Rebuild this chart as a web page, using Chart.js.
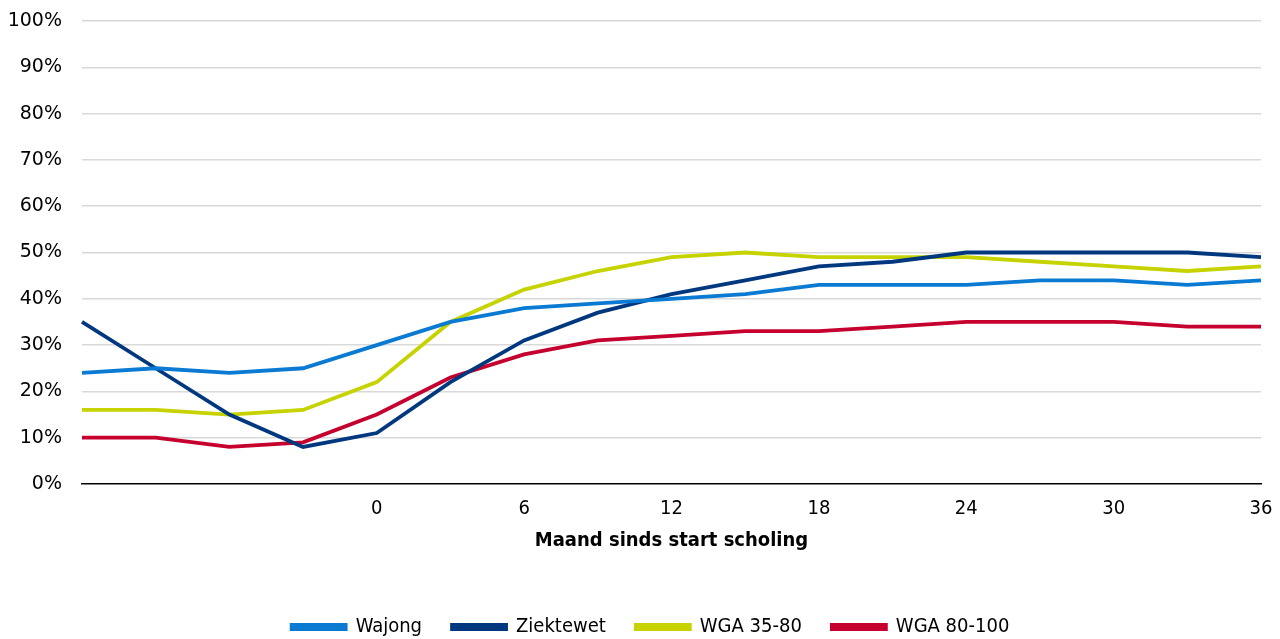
<!DOCTYPE html>
<html>
<head>
<meta charset="utf-8">
<script src="https://cdn.jsdelivr.net/npm/chart.js@4.4.1/dist/chart.umd.min.js"></script>
<style>
  html, body { margin: 0; padding: 0; background: #fff; }
  #wrap { width: 1280px; height: 639px; }
</style>
</head>
<body>
<div id="wrap"><canvas id="lijnGrafiek" width="1280" height="639"></canvas></div>
<script>
// maanden sinds start scholing (per kwartaal)
const maanden = [-12, -9, -6, -3, 0, 3, 6, 9, 12, 15, 18, 21, 24, 27, 30, 33, 36];

const wajong    = [24, 25, 24, 25, 30, 35, 38, 39, 40, 41, 43, 43, 43, 44, 44, 43, 44];
const ziektewet = [35, 25, 15, 8, 11, 22, 31, 37, 41, 44, 47, 48, 50, 50, 50, 50, 49];
const wga3580   = [16, 16, 15, 16, 22, 35, 42, 46, 49, 50, 49, 49, 49, 48, 47, 46, 47];
const wga80100  = [10, 10, 8, 9, 15, 23, 28, 31, 32, 33, 33, 34, 35, 35, 35, 34, 34];

const yTicks = [0, 10, 20, 30, 40, 50, 60, 70, 80, 90, 100];

const KLEUREN = {
    'Wajong': '#0a7ad2',
    'Ziektewet': '#00387f',
    'WGA 35-80': '#c6d300',
    'WGA 80-100': '#c5002e'
};

const smal = "'DejaVu Sans Condensed', 'Liberation Sans Narrow', sans-serif";
const onzichtbaar = 'rgba(0,0,0,0)';

function lijn(label, data) {
    return {
        label: label,
        data: data,
        borderColor: KLEUREN[label],
        backgroundColor: KLEUREN[label],
        borderWidth: 3.8,
        pointRadius: 0,
        tension: 0,
        fill: false
    };
}

// legenda iets naar rechts, zoals in het origineel
const legendaVerschuiving = {
    id: 'legendaVerschuiving',
    afterLayout(chart) {
        chart.legend.left += 17;
        chart.legend.right += 17;
    }
};

new Chart(document.getElementById('lijnGrafiek').getContext('2d'), {
    type: 'line',
    data: {
        labels: maanden,
        datasets: [
            lijn('Wajong', wajong),
            lijn('Ziektewet', ziektewet),
            lijn('WGA 35-80', wga3580),
            lijn('WGA 80-100', wga80100)
        ]
    },
    plugins: [legendaVerschuiving],
    options: {
        responsive: false,
        animation: false,
        layout: { padding: { top: 21, right: 19, left: 6, bottom: -8 } },
        plugins: {
            legend: {
                position: 'bottom',
                labels: {
                    boxWidth: 54,
                    boxHeight: 4,
                    padding: 30,
                    color: '#000',
                    font: { family: smal, size: 20 }
                }
            },
            tooltip: { enabled: false }
        },
        scales: {
            x: {
                offset: false,
                afterFit: function (ax) { ax.height = 103; },
                grid: { display: false, drawTicks: true, tickLength: 13, tickColor: onzichtbaar },
                border: { display: true, color: '#000', width: 1.5 },
                ticks: {
                    autoSkip: false,
                    maxRotation: 0,
                    padding: 0,
                    color: '#000',
                    font: { family: smal, size: 20 },
                    callback: function (v, i) {
                        const m = maanden[i];
                        return (m >= 0 && m % 6 === 0) ? String(m) : '';
                    }
                },
                title: {
                    display: true,
                    text: 'Maand sinds start scholing',
                    color: '#000',
                    font: { family: smal, size: 20, weight: 'bold' },
                    padding: { top: 0, bottom: 34 }
                }
            },
            y: {
                min: 0,
                max: 100,
                afterFit: function (ax) { ax.width = 76; },
                afterBuildTicks: function (ax) { ax.ticks = yTicks.map(v => ({ value: v })); },
                grid: {
                    color: function (c) { return c.tick && c.tick.value === 0 ? onzichtbaar : '#d9d9d9'; },
                    lineWidth: 1.5,
                    drawTicks: true,
                    tickLength: 20,
                    tickColor: onzichtbaar
                },
                border: { display: false },
                ticks: {
                    padding: 0,
                    color: '#000',
                    font: { family: "'DejaVu Sans', Verdana, sans-serif", size: 19 },
                    callback: v => v + '%'
                }
            }
        }
    }
});
</script>
</body>
</html>
